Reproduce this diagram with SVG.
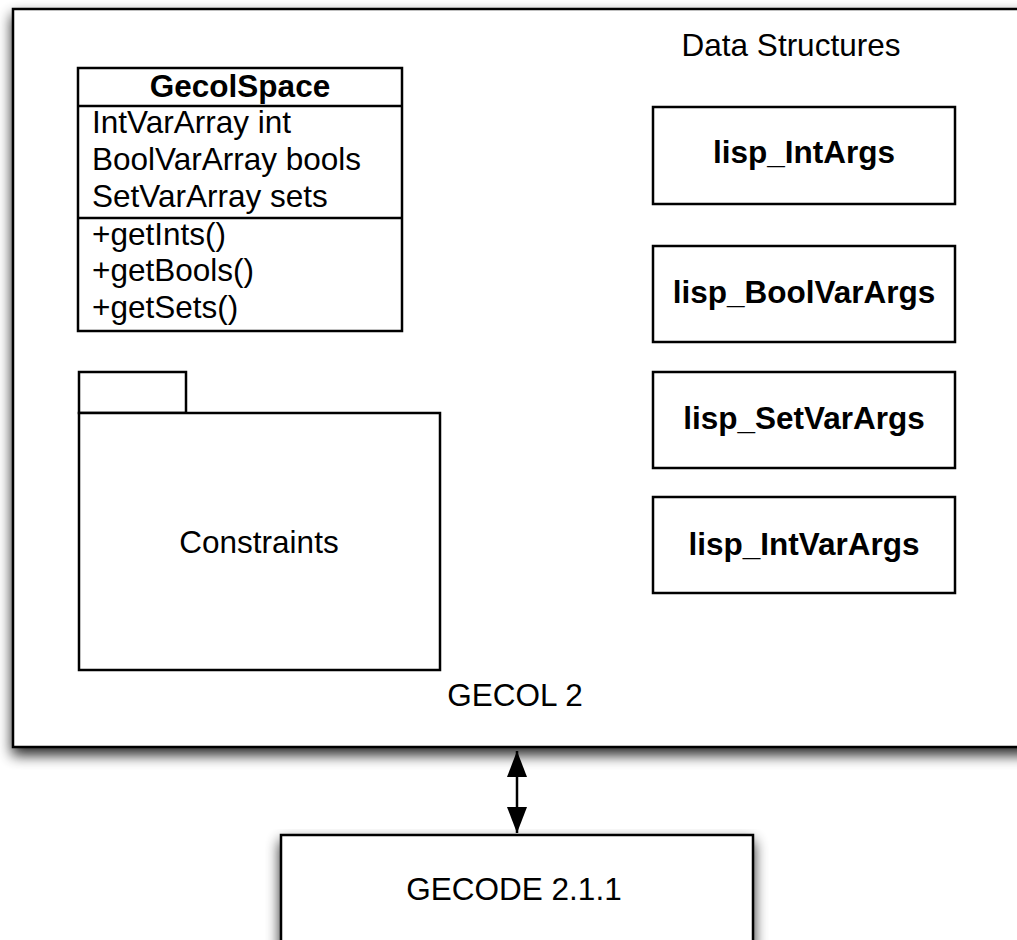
<svg xmlns="http://www.w3.org/2000/svg" width="1017" height="940" viewBox="0 0 1017 940">
  <defs>
    <filter id="shadow" x="-10%" y="-10%" width="120%" height="130%">
      <feGaussianBlur in="SourceAlpha" stdDeviation="7"/>
      <feOffset dx="0" dy="7" result="b"/>
      <feComponentTransfer><feFuncA type="linear" slope="0.85"/></feComponentTransfer>
      <feMerge><feMergeNode/><feMergeNode in="SourceGraphic"/></feMerge>
    </filter>
    <marker id="head" viewBox="0 0 26 20" refX="26" refY="10" markerWidth="26" markerHeight="20" markerUnits="userSpaceOnUse" orient="auto-start-reverse">
      <path d="M0,0 L26,10 L0,20 Z" fill="#000"/>
    </marker>
  </defs>
  <style>
    .box { fill: #fff; stroke: #000; stroke-width: 2.5; }
    .ln { stroke: #000; stroke-width: 2.5; fill: none; }
    text { font-family: "Liberation Sans", Arial, sans-serif; font-size: 31.5px; fill: #000; }
    .b { font-weight: bold; }
    .c { text-anchor: middle; }
  </style>
  <rect width="1017" height="940" fill="#fff"/>

  <g id="gecol2">
    <rect class="box" x="13" y="9" width="1030" height="738" filter="url(#shadow)"/>
    <text class="c" x="515" y="706">GECOL 2</text>
    <text class="c" x="791" y="56">Data Structures</text>
  </g>

  <g id="gecolspace">
    <rect class="box" x="78" y="68" width="324" height="263"/>
    <line class="ln" x1="78" y1="106" x2="402" y2="106"/>
    <line class="ln" x1="78" y1="218" x2="402" y2="218"/>
    <text class="b c" x="240" y="97">GecolSpace</text>
    <text x="92" y="133">IntVarArray int</text>
    <text x="92" y="170">BoolVarArray bools</text>
    <text x="92" y="207">SetVarArray sets</text>
    <text x="92" y="245">+getInts()</text>
    <text x="92" y="281">+getBools()</text>
    <text x="92" y="318">+getSets()</text>
  </g>

  <g id="constraints">
    <rect class="box" x="79" y="372" width="107" height="41"/>
    <rect class="box" x="79" y="413" width="361" height="257"/>
    <text class="c" x="259" y="553">Constraints</text>
  </g>

  <g id="lisp_IntArgs">
    <rect class="box" x="653" y="107" width="302" height="97"/>
    <text class="b c" x="804" y="163">lisp_IntArgs</text>
  </g>
  <g id="lisp_BoolVarArgs">
    <rect class="box" x="653" y="246" width="302" height="96"/>
    <text class="b c" x="804" y="303">lisp_BoolVarArgs</text>
  </g>
  <g id="lisp_SetVarArgs">
    <rect class="box" x="653" y="372" width="302" height="96"/>
    <text class="b c" x="804" y="429">lisp_SetVarArgs</text>
  </g>
  <g id="lisp_IntVarArgs">
    <rect class="box" x="653" y="497" width="302" height="96"/>
    <text class="b c" x="804" y="555">lisp_IntVarArgs</text>
  </g>

  <g id="gecode">
    <rect class="box" x="281" y="835" width="472" height="130" filter="url(#shadow)"/>
    <text class="c" x="514" y="900">GECODE 2.1.1</text>
  </g>

  <g id="connectors">
    <line class="ln" x1="517" y1="751" x2="517" y2="833" marker-start="url(#head)" marker-end="url(#head)"/>
  </g>
</svg>
